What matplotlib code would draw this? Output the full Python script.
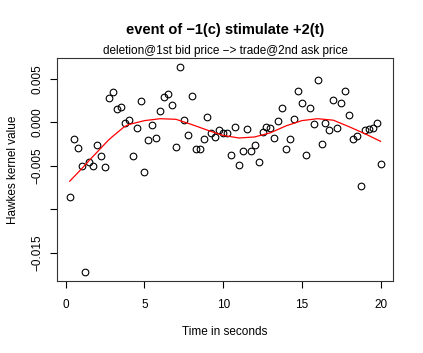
import numpy as np
import matplotlib
matplotlib.use("Agg")
import matplotlib.pyplot as plt

plt.rcParams['font.family'] = ['Liberation Sans', 'DejaVu Sans']

# kernel estimates, every 0.25 s
t = np.arange(1, 81) * 0.25
kernel = [-0.00864, -0.0019, -0.00294, -0.00505, -0.01727, -0.00459, -0.00505, -0.0026,
          -0.0039, -0.00512, 0.00275, 0.00352, 0.00149, 0.0018, -0.00011, 0.00031,
          -0.0039, -0.00069, 0.00245, -0.00566, -0.00206, -0.00034, -0.00175, 0.00134,
          0.00287, 0.00329, 0.00203, -0.00279, 0.00642, 0.00031, -0.00141, 0.00298,
          -0.00305, -0.00302, -0.00195, 0.00057, -0.00126, -0.00164, -0.00084, -0.00118,
          -0.00126, -0.00374, -0.00049, -0.00489, -0.00325, -0.0008, -0.00333, -0.00256,
          -0.00455, -0.00107, -0.00049, -0.00064, -0.00179, 0.00016, 0.00169, -0.00305,
          -0.00187, 0.00042, 0.00364, 0.00218, -0.00374, 0.00169, -0.00023, 0.00493,
          -0.00252, -0.00007, -0.00087, 0.0026, -0.00069, 0.00222, 0.0036, 0.0008,
          -0.00187, -0.00161, -0.00737, -0.00084, -0.00072, -0.00061, -0.00007, -0.00474]

# fitted curve (red)
fit_t = [0.25, 1, 1.6, 2, 2.7, 3, 3.7, 4, 5, 6, 7, 8, 9, 10, 11, 12, 13, 14, 15, 16, 17, 18, 19, 20]
fit_v = [-0.00677, -0.00535, -0.00416, -0.0034, -0.00206, -0.00158, -0.00053, -0.00025,
         0.0002, 0.00042, 0.00035, -0.00025, -0.0009, -0.0015, -0.0018, -0.00168,
         -0.0012, -0.0004, 0.0002, 0.00042, 0.00025, -0.0005, -0.0013, -0.00218]

xticks = [0, 5, 10, 15, 20]
yticks = [0.005, 0.0, -0.005, -0.010, -0.015]
ylabels = ["0.005", "0.000", "\u22120.005", "", "\u22120.015"]

fig = plt.figure(figsize=(4.23, 3.53), dpi=100)
ax = fig.add_axes([0.1355, 0.2048, 0.7935, 0.63])

ax.plot(t, kernel, 'o', mfc='none', mec='black', ms=4.8, mew=0.8)
ax.plot(fit_t, fit_v, color='red', lw=0.9)

# R style 4% padding
xr = t[-1] - t[0]
ax.set_xlim(t[0] - 0.04 * xr, t[-1] + 0.04 * xr)
yr = max(kernel) - min(kernel)
ax.set_ylim(min(kernel) - 0.04 * yr, max(kernel) + 0.04 * yr)

ax.set_xticks(xticks)
ax.set_xticklabels([str(v) for v in xticks])
ax.set_yticks(yticks)
ax.set_yticklabels(ylabels, rotation=90, va='center')
ax.tick_params(direction='out', length=5, width=0.8, labelsize=8.5)
ax.tick_params(axis='x', pad=8)
ax.tick_params(axis='y', pad=5)
for s in ax.spines.values():
    s.set_linewidth(0.8)
    s.set_color('#333333')

ax.set_xlabel("Time in seconds", fontsize=8.5, labelpad=11)
ax.set_ylabel("Hawkes kernel value", fontsize=8.5, labelpad=9)

fig.text(0.533, 0.915, "event of \u22121(c) stimulate +2(t)", ha='center', va='center',
         fontsize=10.5, fontweight='bold')
fig.text(0.533, 0.856, "deletion@1st bid price \u2212> trade@2nd ask price", ha='center',
         va='center', fontsize=8.5)

fig.savefig("out.png", dpi=100)
